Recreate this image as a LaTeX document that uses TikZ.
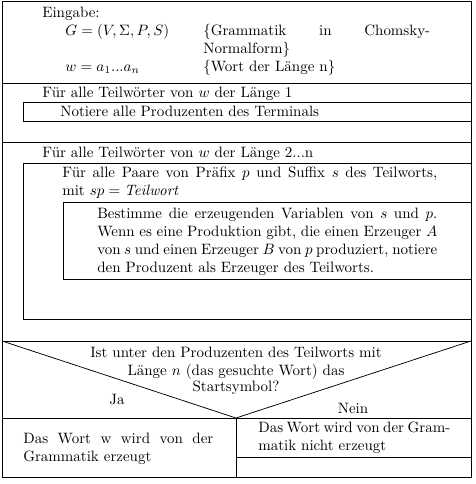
\documentclass[tikz,border=0pt]{standalone}
\usepackage{tikz}
\newcommand{\spreadline}[2]{\makebox[#1][s]{#2}}

\begin{document}
\begin{tikzpicture}[x=0.6667pt, y=-0.6667pt,
  block/.style={draw, line width=0.5pt},
  txt/.style={anchor=base west, inner sep=0pt},
  ctxt/.style={anchor=base, inner sep=0pt}]
  \useasboundingbox (0,0) rectangle (476,484);
  % frame and blocks
  \draw[block] (2,1) rectangle (471,477);
  \draw[block] (2,83) -- (471,83);
  \draw[block] (23,102) rectangle (471,121);
  \draw[block] (2,142) -- (471,142);
  \draw[block] (23,163) rectangle (471,319);
  \draw[block] (63,202) rectangle (471,279);
  \draw[block] (2,341) -- (471,341);
  \coordinate (Apex) at (236,418);
  \draw[block] (2,341) -- (Apex) -- (471,341);
  \draw[block] (2,418) -- (471,418);
  \draw[block] (Apex) -- (236,477);
  \draw[block] (236,457) -- (471,457);
  % input
  \node[txt] (Eingabe) at (42,17) {Eingabe:};
  \node[txt] (Gram) at (65,35) {$G=(V,\Sigma,P,S)$};
  \node[txt] (GramNote) at (203,35) {\spreadline{151.3pt}{\{Grammatik in Chomsky-}};
  \node[txt] (GramNoteB) at (203,53) {Normalform\}};
  \node[txt] (Wort) at (65,71) {$w=a_1...a_n$};
  \node[txt] (WortNote) at (203,71) {\{Wort der L\"ange n\}};
  % first loop
  \node[txt] (LoopA) at (42,97) {F\"ur alle Teilw\"orter von $w$ der L\"ange 1};
  \node[txt] (Notiere) at (60,116) {Notiere alle Produzenten des Terminals};
  % second loop
  \node[txt] (LoopB) at (42,157) {F\"ur alle Teilw\"orter von $w$ der L\"ange 2...n};
  \node[txt] (Paare) at (62,177) {\spreadline{250pt}{F\"ur alle Paare von Pr\"afix $p$ und Suffix $s$ des Teilworts,}};
  \node[txt] (PaareB) at (62,195) {mit $sp=\mathit{Teilwort}$};
  \node[txt] (BestA) at (97,218) {\spreadline{226.7pt}{Bestimme die erzeugenden Variablen von $s$ und $p$.}};
  \node[txt] (BestB) at (97,236) {\spreadline{226.7pt}{Wenn es eine Produktion gibt, die einen Erzeuger $A$}};
  \node[txt] (BestC) at (97,254) {\spreadline{226.7pt}{von $s$ und einen Erzeuger $B$ von $p$ produziert, notiere}};
  \node[txt] (BestD) at (97,272) {den Produzent als Erzeuger des Teilworts.};
  % decision
  \node[ctxt] (FrageA) at (236,357) {Ist unter den Produzenten des Teilworts mit};
  \node[ctxt] (FrageB) at (236,375) {L\"ange $n$ (das gesuchte Wort) das};
  \node[ctxt] (FrageC) at (236,391) {Startsymbol?};
  \node[ctxt] (Ja) at (117,404) {Ja};
  \node[ctxt] (Nein) at (353,413) {Nein};
  \node[txt] (JaA) at (23,443) {\spreadline{126.7pt}{Das Wort w wird von der}};
  \node[txt] (JaB) at (23,461) {Grammatik erzeugt};
  \node[txt] (NeinA) at (258,432) {\spreadline{128pt}{Das Wort wird von der Gram-}};
  \node[txt] (NeinB) at (258,450) {matik nicht erzeugt};
\end{tikzpicture}
\end{document}
